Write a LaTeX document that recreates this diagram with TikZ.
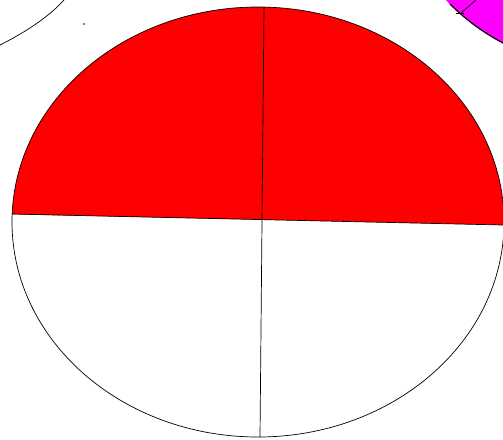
\documentclass[tikz,border=0pt]{standalone}
\definecolor{pieRed}{RGB}{255,0,0}
\definecolor{pieMagenta}{RGB}{255,0,255}
\begin{document}
\begin{tikzpicture}[x=1pt,y=-1pt,line width=0.7pt]
  \useasboundingbox (0,0) rectangle (503,439);

  % Fill the upper half of the big ellipse in red
  \begin{scope}
    \clip (258,222) ellipse (246 and 215);
    \fill[pieRed] (0,214) -- (503,225) -- (503,0) -- (0,0) -- cycle;
  \end{scope}

  % Draw the big ellipse
  \draw (258,222) ellipse (246 and 215);

  % Dividing lines
  \draw (12,214) -- (503,225);
  \draw (264,7) -- (260,437);

  % Magenta piece in the top right corner
  \fill[pieMagenta] (446,0) .. controls (458,14) and (478,30) .. (503,43) -- (503,0) -- cycle;
  \draw[line width=1.2pt] (450,4) .. controls (462,16) and (480,31) .. (503,43);
  \draw (461,13) -- (476,0);
  \draw (456,13) -- (464,13);

  % Arc in the top left corner
  \draw (0,45) .. controls (22,34) and (48,18) .. (64,0);
  \fill (84,24) circle (0.9);
\end{tikzpicture}
\end{document}
